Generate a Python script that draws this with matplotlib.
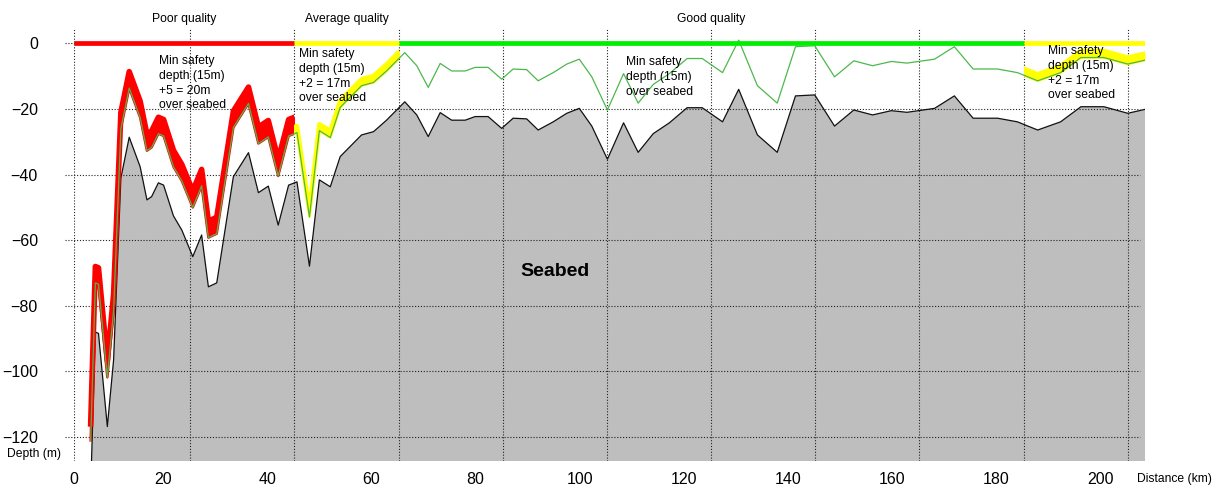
import numpy as np
import matplotlib
matplotlib.use("Agg")
import matplotlib.pyplot as plt
from matplotlib.patches import Rectangle

# seabed profile along the route (km, depth in m)
seabed_km = [
    6.1, 7.0, 7.6, 9.3, 10.5, 11.9, 13.5, 15.6, 16.9, 17.8, 19.1, 20.1, 22.0,
    23.6, 25.7, 27.4, 28.7, 30.3, 33.5, 36.4, 38.3, 40.2, 42.1, 44.1, 45.7,
    48.1, 50.0, 52.1, 54.0, 58.1, 60.4, 62.9, 66.4, 68.7, 70.9, 73.2, 75.4,
    78.0, 79.9, 82.4, 85.0, 87.2, 89.8, 92.0, 94.9, 97.5, 99.9, 102.3, 105.3,
    108.4, 111.2, 114.1, 117.2, 120.6, 123.5, 127.4, 130.5, 134.1, 137.9,
    141.4, 145.1, 148.9, 152.6, 156.2, 159.8, 162.8, 168.1, 171.9, 175.5,
    180.2, 184.0, 187.9, 192.3, 196.2, 200.6, 205.2, 208.5,
]
seabed_depth = [
    -136, -88.0, -88.4, -116.8, -96.5, -41.0, -28.6, -37.6, -47.7, -46.7,
    -42.5, -43.2, -52.6, -56.9, -65.0, -58.4, -74.2, -73.0, -40.6, -33.3,
    -45.5, -43.5, -55.4, -43.2, -42.2, -67.9, -41.6, -43.7, -34.5, -27.9,
    -26.9, -23.4, -17.8, -21.8, -28.4, -21.1, -23.4, -23.4, -22.3, -22.3,
    -25.9, -22.8, -23.0, -26.4, -23.9, -21.3, -19.8, -25.2, -35.3, -24.2,
    -33.2, -27.5, -24.2, -19.6, -19.6, -23.9, -14.0, -27.9, -33.2, -16.0,
    -15.7, -25.2, -20.3, -21.8, -20.5, -21.0, -19.8, -16.0, -22.8, -22.8,
    -23.9, -26.4, -23.9, -19.3, -19.3, -21.3, -20.1,
]

SAFETY_DEPTH = 15

# route quality sections
zone_start = [2.9, 45.2, 65.2, 185.2]
zone_end = [45.2, 65.2, 185.2, 208.5]
zone_color = ["#ff0000", "#ffff00", "#00ee00", "#ffff00"]
zone_margin = [5, 2, None, 2]
zone_label = ["Poor quality", "Average quality", "Good quality", None]

note_x = [19.2, 46.0, 108.9, 189.9]
note_top = [-3.6, -1.5, -3.9, -0.6]
note_text = [
    "Min safety\ndepth (15m)\n+5 = 20m\nover seabed",
    "Min safety\ndepth (15m)\n+2 = 17m\nover seabed",
    "Min safety\ndepth (15m)\nover seabed",
    "Min safety\ndepth (15m)\n+2 = 17m\nover seabed",
]

ytick_values = [0, -20, -40, -60, -80, -100, -120]
xtick_pos = [2.9, 20, 40, 60, 80, 100, 120, 140, 160, 180, 200]
xtick_labels = ["0", "20", "40", "60", "80", "100", "120", "140", "160", "180", "200"]
xgrid_pos = [2.9, 25.2, 45.2, 65.2, 85.2, 105.2, 125.2, 145.2, 165.2, 185.2, 205.2]

plt.rcParams["font.family"] = ["Liberation Sans", "DejaVu Sans"]

X_MIN, X_MAX = 2.9, 208.5
Y_MIN, Y_MAX = -127.3, 4.7

fig = plt.figure(figsize=(12.15, 4.88), dpi=100)
ax = fig.add_axes([74 / 1215, 27 / 488, (1145 - 74) / 1215, (461 - 28) / 488])
ax.set_xlim(X_MIN, X_MAX)
ax.set_ylim(Y_MIN, Y_MAX)
for s in ax.spines.values():
    s.set_visible(False)

km = np.array(seabed_km)
depth = np.array(seabed_depth)
safety = depth + SAFETY_DEPTH

ax.fill_between(km, depth, Y_MIN - 50, color="#bebebe", lw=0, zorder=1)

# dotted grid
grid_style = dict(color="#222222", lw=0.8, linestyle=(0, (1, 1.6)), zorder=2)
for gx in xgrid_pos:
    ax.plot([gx, gx], [Y_MIN, Y_MAX], **grid_style)
ytr = ax.get_yaxis_transform()
for gy in ytick_values:
    ax.plot([-0.0084, 0.9953], [gy, gy], transform=ytr, clip_on=False, **grid_style)

ax.plot(km, depth, color="#111111", lw=0.9, zorder=3)

# safety bands in poor / average sections
for x0, x1, col, m in zip(zone_start, zone_end, zone_color, zone_margin):
    if m is None:
        continue
    clip = Rectangle((x0, Y_MIN - 50), x1 - x0, 200, transform=ax.transData)
    band = ax.fill_between(km, safety, safety + m, color=col, lw=0, zorder=4)
    edge, = ax.plot(km, safety + m, color=col, lw=4.0 if m > 2 else 3.2, zorder=4)
    low, = ax.plot(km, safety, color=col, lw=1.8, zorder=4)
    for a in (band, edge, low):
        a.set_clip_path(clip)

ax.plot(km, safety, color="#4cb84c", lw=0.9, zorder=5)

# quality bar along the surface
for x0, x1, col, lab in zip(zone_start, zone_end, zone_color, zone_label):
    ax.plot([x0, x1], [0, 0], color=col, lw=3.4, solid_capstyle="butt", zorder=6)
    if lab:
        ax.text((x0 + x1) / 2, 7.3, lab, ha="center", va="center",
                fontsize=8.7, clip_on=False, zorder=7)

for x, y, t in zip(note_x, note_top, note_text):
    ax.text(x, y, t, ha="left", va="top", fontsize=8.7, linespacing=1.3, zorder=7)

ax.text(95.3, -69.4, "Seabed", ha="center", va="center", fontsize=14,
        fontweight="bold", zorder=7)

ax.set_yticks(ytick_values)
ax.set_yticklabels([str(v).replace("-", "\u2212") for v in ytick_values])
ax.set_xticks(xtick_pos)
ax.set_xticklabels(xtick_labels)
ax.tick_params(axis="y", length=0, pad=26, labelsize=11.5)
ax.tick_params(axis="x", length=0, pad=8, labelsize=11.5)

fig.text(7 / 1215, 1 - 454 / 488, "Depth (m)", ha="left", va="center", fontsize=8.7)
fig.text(1137 / 1215, 1 - 479 / 488, "Distance (km)", ha="left", va="center", fontsize=8.7)

fig.savefig("out.png", dpi=100)
plt.close(fig)
